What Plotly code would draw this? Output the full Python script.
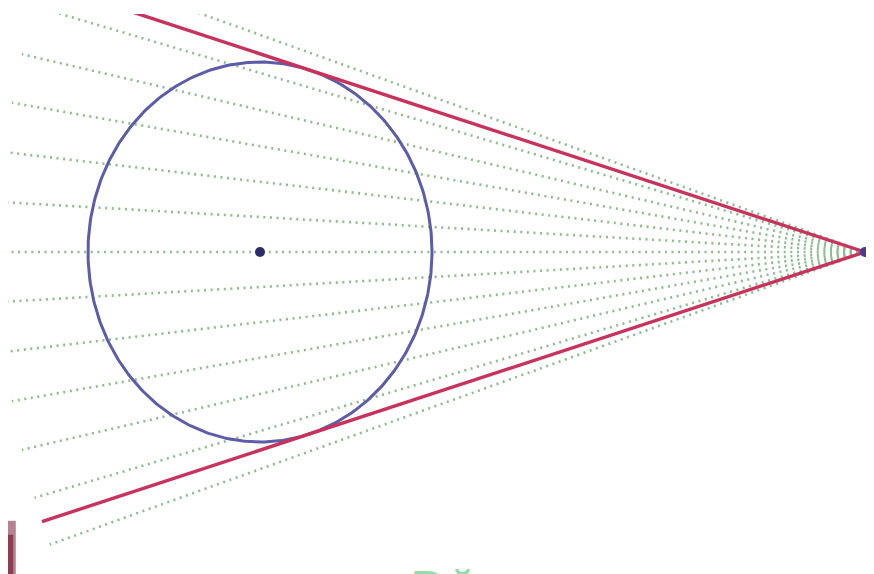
import numpy as np
import plotly.graph_objects as go

# ---- data (geometry in data units) ----
circle_center = [0.0, 0.0]
circle_radius = 1.0
apex_point = [3.517, 0.0]
ray_angles_deg = [-18, -15, -12, -9, -6, -3, 0, 3, 6, 9, 12, 15, 18]
watermark_text = "Đăng"

# ---- layout scale (page pixels per data unit); page has an 8px body margin ----
OFF = 8
W, H = 874 - OFF, 574 - OFF
TOP_PAGE = 14
SX, SY = 172.0, 190.0
CX_PX, CY_PX = 260.0, 252.0
x_range = [(OFF - CX_PX) / SX, (874 - CX_PX) / SX]
y_range = [(CY_PX - 574) / SY, (CY_PX - TOP_PAGE) / SY]
LEN_PX = 866.0

def ray(theta):
    c, s = np.cos(theta), np.sin(theta)
    t = LEN_PX / np.hypot(SX * c, SY * s)
    return [apex_point[0], apex_point[0] - c * t], [apex_point[1], apex_point[1] + s * t]

fig = go.Figure()

# green dotted rays
for a in ray_angles_deg:
    xs, ys = ray(np.radians(a))
    fig.add_trace(go.Scatter(x=xs, y=ys, mode="lines",
                             line=dict(color="#8cbc8c", width=2.6, dash="2px,4.6px"),
                             hoverinfo="skip", showlegend=False))

# circle
th = np.linspace(0, 2 * np.pi, 400)
fig.add_trace(go.Scatter(x=circle_center[0] + circle_radius * np.cos(th),
                         y=circle_center[1] + circle_radius * np.sin(th),
                         mode="lines", line=dict(color="#5c5ca8", width=3),
                         hoverinfo="skip", showlegend=False))

# tangent lines
d = np.hypot(apex_point[0] - circle_center[0], apex_point[1] - circle_center[1])
tang = np.arcsin(circle_radius / d)
for sgn in (-1, 1):
    xs, ys = ray(sgn * tang)
    fig.add_trace(go.Scatter(x=xs, y=ys, mode="lines",
                             line=dict(color="#c8325c", width=3.4),
                             hoverinfo="skip", showlegend=False))

# points
fig.add_trace(go.Scatter(x=[circle_center[0]], y=[circle_center[1]], mode="markers",
                         marker=dict(color="#2c2c68", size=10), hoverinfo="skip", showlegend=False))
fig.add_trace(go.Scatter(x=[apex_point[0]], y=[apex_point[1]], mode="markers",
                         marker=dict(color="#4a3c8c", size=10), hoverinfo="skip", showlegend=False))

fig.update_layout(
    width=W, height=H,
    margin=dict(l=0, r=0, t=TOP_PAGE - OFF, b=0),
    paper_bgcolor="white", plot_bgcolor="white",
    xaxis=dict(range=x_range, visible=False, fixedrange=True),
    yaxis=dict(range=y_range, visible=False, fixedrange=True),
    shapes=[
        dict(type="rect", xref="paper", yref="paper", x0=0.0, x1=0.009, y0=0, y1=0.095,
             fillcolor="#7a1c34", line=dict(width=0), opacity=0.55, layer="above"),
        dict(type="rect", xref="paper", yref="paper", x0=0.0, x1=0.006, y0=0, y1=0.07,
             fillcolor="#6a1028", line=dict(width=0), opacity=0.6, layer="above"),
    ],
    annotations=[dict(text="<b>" + watermark_text + "</b>", xref="paper", yref="paper",
                      x=(408 - OFF) / W, y=0, xanchor="left", yanchor="top", yshift=13,
                      showarrow=False, font=dict(size=44, color="#92dcaa", family="DejaVu Sans"))],
)

fig.write_html("out.html")
